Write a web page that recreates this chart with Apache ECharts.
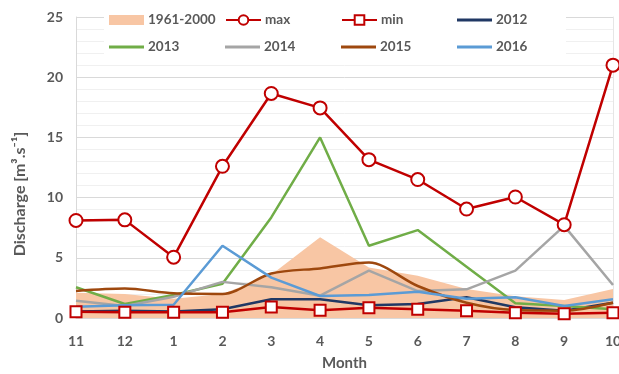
<!DOCTYPE html>
<html>
<head>
<meta charset="utf-8">
<script src="https://cdn.jsdelivr.net/npm/echarts@6/dist/echarts.min.js"></script>
<style>
html,body{margin:0;padding:0;background:#fff;}
#c{width:619px;height:374px;}
</style>
</head>
<body>
<div id="c"></div>
<script>
var months = ['11','12','1','2','3','4','5','6','7','8','9','10'];
var ref1961_2000 = [2.1, 2.0, 1.6, 2.0, 3.6, 6.7, 4.2, 3.5, 2.4, 1.8, 1.5, 2.4];
var maxQ = [8.1, 8.15, 5.05, 12.6, 18.65, 17.45, 13.15, 11.5, 9.05, 10.05, 7.75, 21.0];
var minQ = [0.52, 0.48, 0.48, 0.48, 0.92, 0.65, 0.86, 0.72, 0.6, 0.44, 0.36, 0.44];
var y2012 = [0.55, 0.6, 0.55, 0.72, 1.55, 1.55, 1.05, 1.16, 1.72, 0.89, 0.61, 1.27];
var y2013 = [2.55, 1.16, 1.91, 2.85, 8.35, 15.0, 6.0, 7.3, 4.25, 1.22, 1.0, 0.72];
var y2014 = [1.44, 1.0, 1.77, 3.0, 2.55, 1.85, 3.93, 2.24, 2.38, 3.93, 7.65, 2.74];
var y2015 = [2.24, 2.44, 2.05, 2.0, 3.7, 4.12, 4.6, 2.66, 1.27, 0.66, 0.61, 1.27];
var y2016 = [0.94, 1.05, 1.1, 6.0, 3.35, 1.83, 1.91, 2.18, 1.6, 1.72, 1.0, 1.55];
var yTicks = [0, 5, 10, 15, 20, 25];

var FONT = 'Lato';
var TXT = '#595959';
var chart = echarts.init(document.getElementById('c'), null, {renderer:'canvas'});

function lineSeries(name, data, color, extra) {
  var s = {
    name: name, type: 'line', data: data,
    symbol: 'none', smooth: false,
    lineStyle: {color: color, width: 2.5},
    itemStyle: {color: color},
    z: 3
  };
  if (extra) for (var k in extra) s[k] = extra[k];
  return s;
}

// [name, left, centerY, icon, iconHeight]
var legendPos = [
  ['1961-2000', 109, 20, 'rect', 10],
  ['max', 225, 20, null, 12],
  ['min', 341, 20, null, 12],
  ['2012', 457, 20, 'rect', 3],
  ['2013', 109, 47, 'rect', 3],
  ['2014', 225, 47, 'rect', 3],
  ['2015', 341, 47, 'rect', 3],
  ['2016', 457, 47, 'rect', 3]
];
var LH = 16;
var legends = legendPos.map(function(p){
  var d = {name: p[0]};
  if (p[3]) d.icon = p[3];
  return {
    data: [d], left: p[1], top: p[2] - LH / 2, padding: 0,
    itemWidth: 35, itemHeight: p[4], itemGap: 0,
    textStyle: {fontFamily: FONT, fontSize: 13.5, fontWeight: 'bold', color: TXT, lineHeight: LH, padding: [0,0,0,-1]},
    selectedMode: false, z: 10
  };
});

var option = {
  backgroundColor: '#fff',
  animation: false,
  textStyle: {fontFamily: FONT},
  legend: legends,
  graphic: [
    {type: 'rect', shape: {x: 104, y: 7, width: 462, height: 53}, style: {fill: '#fff'}, z: 1, silent: true},
    {type: 'text', x: 20, y: 194, rotation: Math.PI/2,
     style: {text: 'Discharge [m³.s⁻¹]', fontFamily: FONT, fontSize: 16, fontWeight: 'bold', fill: TXT, align: 'center', verticalAlign: 'middle'}}
  ],
  grid: {left: 76, right: 6, top: 17, bottom: 56, containLabel: false, outerBoundsMode: 'none'},
  xAxis: {
    type: 'category', data: months, boundaryGap: false,
    axisLine: {show: true, lineStyle: {color: '#d9d9d9', width: 1}},
    axisTick: {show: false},
    axisLabel: {fontFamily: FONT, fontSize: 14, fontWeight: 'bold', color: TXT, margin: 16},
    splitLine: {show: false},
    name: 'Month', nameLocation: 'middle', nameGap: 38,
    nameTextStyle: {fontFamily: FONT, fontSize: 15, fontWeight: 'bold', color: TXT}
  },
  yAxis: [{
    type: 'value', min: yTicks[0], max: yTicks[yTicks.length-1], interval: 5,
    axisLine: {show: true, lineStyle: {color: '#d9d9d9'}},
    axisTick: {show: false},
    axisLabel: {fontFamily: FONT, fontSize: 14, fontWeight: 'bold', color: TXT, margin: 13},
    splitLine: {show: true, lineStyle: {color: '#d9d9d9', width: 1}},
    minorTick: {show: false, splitNumber: 5},
    minorSplitLine: {show: true, lineStyle: {color: '#f0f0f0', width: 1}}
  }, {
    type: 'value', min: 0, max: 25, position: 'right',
    axisLine: {show: true, lineStyle: {color: '#e6e6e6'}},
    axisTick: {show: false}, axisLabel: {show: false}, splitLine: {show: false}
  }],
  series: [
    {
      name: '1961-2000', type: 'line', data: ref1961_2000, symbol: 'none', smooth: false,
      lineStyle: {width: 0}, itemStyle: {color: '#f8c6a4'},
      areaStyle: {color: '#f8c6a4', opacity: 1}, z: 2
    },
    lineSeries('2012', y2012, '#203864'),
    lineSeries('2013', y2013, '#70ad47'),
    lineSeries('2014', y2014, '#a5a5a5'),
    lineSeries('2015', y2015, '#9e480e', {smooth: 0.3}),
    lineSeries('2016', y2016, '#5b9bd5'),
    {
      name: 'max', type: 'line', data: maxQ, symbol: 'circle', symbolSize: 13,
      lineStyle: {color: '#c00000', width: 2.5},
      itemStyle: {color: '#fff', borderColor: '#c00000', borderWidth: 2},
      z: 5
    },
    {
      name: 'min', type: 'line', data: minQ, symbol: 'rect', symbolSize: 11,
      lineStyle: {color: '#c00000', width: 2.5},
      itemStyle: {color: '#fff', borderColor: '#c00000', borderWidth: 2},
      z: 5
    }
  ]
};
chart.setOption(option);
</script>
</body>
</html>
